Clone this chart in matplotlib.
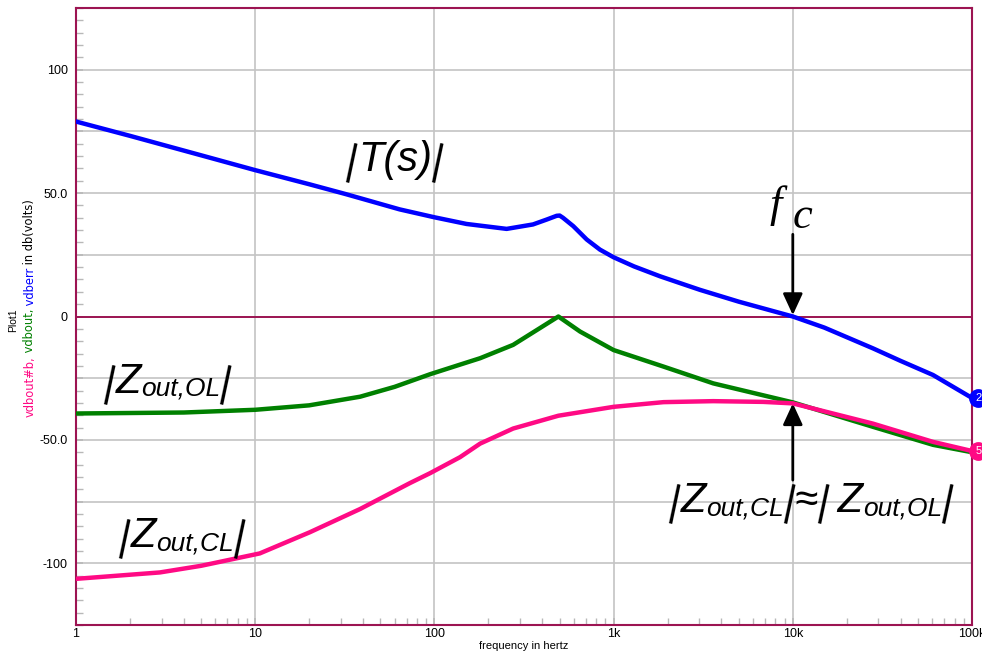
'''loop gain and output impedance, open vs closed loop'''
import numpy as np
import matplotlib
matplotlib.use('Agg')
import matplotlib.pyplot as plt
from matplotlib.ticker import MultipleLocator, FixedLocator, NullFormatter
import matplotlib.transforms as mtransforms

plt.rcParams['font.family'] = ['Liberation Sans', 'DejaVu Sans']
plt.rcParams['axes.unicode_minus'] = False

#%% data
# |T(s)|, vdberr
fT = [1, 2, 5, 10, 20, 32, 64, 100, 151, 253, 355, 424, 481, 500, 522, 596, 708, 839,
      1000, 1300, 1815, 2400, 3034, 5000, 10000, 15000, 28000, 40000, 60600, 100000]
dbT = [79, 73.2, 65.3, 59.3, 53.6, 49.6, 43.4, 40.2, 37.5, 35.5, 37.3, 39.3, 40.8, 40.9,
       40.0, 36.6, 31.2, 27.1, 24, 20.3, 16.3, 13.3, 10.8, 6, 0, -4.5, -12.9, -18, -23.7,
       -33]

# |Zout,OL|, vdbout
fOL = [1, 4, 10, 20, 38.5, 60, 94.5, 139, 180, 275, 388, 492, 650, 1000, 1900,
       3600, 10000, 28000, 60600, 100000]
dbOL = [-39.3, -38.9, -37.8, -36, -32.5, -28.5, -23.4, -19.5, -16.9, -11.5, -4.7, 0,
        -6.1, -13.6, -20.3, -27.1, -34.8, -44.7, -52, -55]

# |Zout,CL|, vdbout#b
fCL = [1, 2.94, 5, 10.6, 20.2, 38.5, 73, 94.5, 139, 180, 275, 492, 1000, 1900,
       3600, 6850, 10000, 28000, 60600, 100000]
dbCL = [-106.3, -103.7, -101, -96, -87.4, -78, -67.5, -63.5, -57, -51.5, -45.4, -40.2,
        -36.6, -34.7, -34.3, -34.6, -35.2, -43.4, -50.8, -54.5]

yTicks = [-100, -75, -50, -25, 0, 25, 50, 75, 100]
yTickLabels = ['-100', '', '-50.0', '', '0', '', '50.0', '', '100']
xTicks = [1, 10, 100, 1e3, 1e4, 1e5]
xTickLabels = ['1', '10', '100', '1k', '10k', '100k']

cBlue = '#0000ff'
cGreen = '#008000'
cPink = '#ff0a84'
cFrame = '#9c1452'
cGrid = '#c4c4c4'

#%% figure
W, H = 982, 657
fig = plt.figure(figsize=(W/100, H/100), dpi=100)
ax = fig.add_axes([76/W, 1-625/H, (972-76)/W, (625-8)/H])

ax.set_xscale('log')
ax.set_xlim(1, 1e5)
ax.set_ylim(-125, 125)

ax.xaxis.set_major_locator(FixedLocator(xTicks))
ax.set_xticklabels(xTickLabels)
ax.xaxis.set_minor_locator(FixedLocator([m*10**d for d in range(5) for m in range(2, 10)]))
ax.xaxis.set_minor_formatter(NullFormatter())
ax.set_yticks(yTicks)
ax.set_yticklabels(yTickLabels)
ax.yaxis.set_minor_locator(MultipleLocator(5))

ax.tick_params(which='both', direction='in', color='#b8b8b8', labelsize=9)
ax.tick_params(which='major', length=5, width=1.2)
ax.tick_params(which='minor', length=5, width=1)
ax.tick_params(axis='y', pad=6)
ax.tick_params(axis='x', pad=2)
ax.grid(True, which='major', color=cGrid, lw=1.2)
ax.set_axisbelow(True)
for s in ax.spines.values():
    s.set_color(cFrame)
    s.set_linewidth(1.5)
ax.axhline(0, color=cFrame, lw=1.4, zorder=2)

ax.plot(fT, dbT, color=cBlue, lw=3.2, solid_joinstyle='round', zorder=3)
ax.plot(fOL, dbOL, color=cGreen, lw=3.2, solid_joinstyle='round', zorder=3)
ax.plot(fCL, dbCL, color=cPink, lw=3.2, solid_joinstyle='round', zorder=4)

ax.set_xlabel('frequency in hertz', fontsize=8, labelpad=1)

# trace markers on the right edge
tr = mtransforms.blended_transform_factory(ax.transAxes, ax.transData)
for yv, col, num in [(dbT[-1], cBlue, '2'), (dbCL[-1], cPink, '5')]:
    ax.plot([1 + 6/896], [yv], marker='o', ms=12.5, color=col, transform=tr,
            clip_on=False, zorder=6)
    ax.text(1 + 7/896, yv, num, color='white', fontsize=8, ha='center', va='center',
            transform=tr, clip_on=False, zorder=7)

# annotations: base text + small subscripts, chained left to right
rend = fig.canvas.get_renderer()
pix = mtransforms.IdentityTransform()


def label(f, db, parts):
    x, y = ax.transData.transform((f, db))
    for p in parts:
        if p[0] == 'bar':
            # tilted bar (slanted like the original), fixed shift and advance in px
            _, pre, adv = p
            fig.text(x + pre, y - 2, '|', fontsize=30, ha='left', va='baseline',
                     rotation=-12, rotation_mode='anchor', transform=pix, zorder=8)
            x += adv
        else:
            txt, size, dy = p
            t = fig.text(x, y + dy, txt, fontsize=size, style='italic', ha='left',
                         va='baseline', transform=pix, zorder=8)
            x = t.get_window_extent(rend).x1


lead = ('bar', -2, 13)
trail = ('bar', -3, 10)
label(31.7, 58.9, [lead, ('T(s)', 30, 0), trail])
label(1.415, -30.9, [lead, ('Z', 30, 0), ('out,OL', 19, -3), trail])
label(1.716, -93.5, [lead, ('Z', 30, 0), ('out,CL', 19, -3), trail])
label(2013, -79.3, [lead, ('Z', 30, 0), ('out,CL', 19, -3), trail,
                    ('\u2248', 30, 0), ('bar', -2, 9), (' Z', 30, 0),
                    ('out,OL', 19, -3), trail])

ax.text(7400, 45, 'f', fontsize=32, family='Liberation Serif', style='italic',
        ha='left', va='center')
ax.text(10000, 40.5, 'c', fontsize=32, family='Liberation Serif', style='italic',
        ha='left', va='center')

arr = dict(arrowstyle='-|>,head_length=0.65,head_width=0.3', color='black', lw=2,
           mutation_scale=20, shrinkA=0, shrinkB=0)
ax.annotate('', xy=(1e4, 0.6), xytext=(1e4, 33.3), arrowprops=arr)
ax.annotate('', xy=(1e4, -35.2), xytext=(1e4, -66.3), arrowprops=arr)

# y axis labels
fig.text(13/W, 1-320/H, 'Plot1', rotation=90, ha='center', va='center', fontsize=7.5)
yPos = H-417
for txt, col in [('vdbout#b,', cPink), (' vdbout,', cGreen), (' vdberr', cBlue),
                 (' in db(volts)', 'black')]:
    t = fig.text(30/W, yPos/H, txt, rotation=90, ha='center', va='bottom', fontsize=8.3,
                 color=col, family='DejaVu Sans')
    yPos = t.get_window_extent(rend).y1

fig.savefig('out.png', dpi=100)
